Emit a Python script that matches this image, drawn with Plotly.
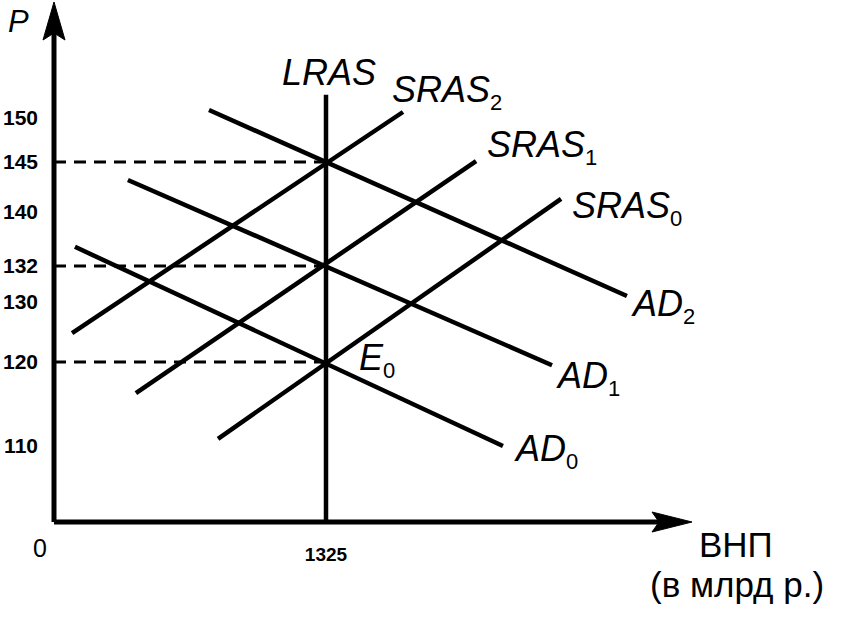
import plotly.graph_objects as go

# ---------------- data (schematic AD/AS model) ----------------
x_lras = 1325                      # ВНП, млрд р.
p_equilibria = [120, 132, 145]     # E0, E1, E2 price levels

ad0_x, ad0_p = [102, 2187], [134.4, 109.5]
ad1_x, ad1_p = [360, 2426], [142.75, 119.6]
ad2_x, ad2_p = [755, 2791], [151.5, 128.25]
sras0_x, sras0_p = [799, 2470], [110.4, 140.4]
sras1_x, sras1_p = [399, 2056], [116.1, 145.1]
sras2_x, sras2_p = [88, 1700], [123.6, 151.25]
lras_p = [100, 153.4]

y_tick_pos = [109.6, 120, 127.5, 132, 138.75, 145, 150.5]
y_tick_text = ["110", "120", "130", "132", "140", "145", "150"]
x_tick_text = ["1325"]

# ---------------- geometry helpers ----------------
W, H = 847, 620
KX = 1325 / 272.0        # data units per pixel (x)
KY = 1 / 8.0             # data units per pixel (y)
X0_PX, Y0_PX = 54, 522   # pixel position of origin
P0 = 100
x_range = [-X0_PX * KX, (W - X0_PX) * KX]
y_range = [P0 - (H - Y0_PX) * KY, P0 + Y0_PX * KY]
x_tip = (692 - X0_PX) * KX
y_tip = P0 + (Y0_PX - 2) * KY

BLACK = "black"
FONT = "Liberation Sans, Arial, sans-serif"

fig = go.Figure()

def line(xs, ys, width=4.5, dash=None):
    fig.add_trace(go.Scatter(x=xs, y=ys, mode="lines",
                             line=dict(color=BLACK, width=width, dash=dash),
                             hoverinfo="skip", showlegend=False))

# axes
line([0, 0], [P0, y_tip - 30 * KY], width=5)
line([0, x_tip - 30 * KX], [P0, P0], width=5)
# arrowheads
fig.add_trace(go.Scatter(
    x=[-11 * KX, 0, 11 * KX, 0, -11 * KX],
    y=[y_tip - 38 * KY, y_tip, y_tip - 38 * KY, y_tip - 31 * KY, y_tip - 38 * KY],
    mode="lines", fill="toself", fillcolor=BLACK, line=dict(color=BLACK, width=1),
    hoverinfo="skip", showlegend=False))
fig.add_trace(go.Scatter(
    x=[x_tip - 40 * KX, x_tip, x_tip - 40 * KX, x_tip - 33 * KX, x_tip - 40 * KX],
    y=[P0 + 10 * KY, P0, P0 - 10 * KY, P0, P0 + 10 * KY],
    mode="lines", fill="toself", fillcolor=BLACK, line=dict(color=BLACK, width=1),
    hoverinfo="skip", showlegend=False))

# dashed guides
for p in p_equilibria:
    line([0, x_lras], [p, p], width=3, dash="12px,8px")

# curves
line([x_lras, x_lras], lras_p, width=4.5)
for xs, ps in [(ad0_x, ad0_p), (ad1_x, ad1_p), (ad2_x, ad2_p),
               (sras0_x, sras0_p), (sras1_x, sras1_p), (sras2_x, sras2_p)]:
    line(xs, ps)

# labels
def label(text, x, y, xs=0, ys=0, size=36, xanchor="left", yanchor="middle"):
    fig.add_annotation(x=x, y=y, text=text, showarrow=False, xshift=xs, yshift=ys,
                       xanchor=xanchor, yanchor=yanchor,
                       font=dict(family=FONT, size=size, color=BLACK))

sub = lambda s: f"<sub><span style='font-size:22px'>{s}</span></sub>"
label("<i>LRAS</i>", x_lras, lras_p[1], xs=3, ys=0, xanchor="center", yanchor="bottom")
label("<i>SRAS</i>" + sub("2"), sras2_x[1], sras2_p[1], xs=-13, ys=20)
label("<i>SRAS</i>" + sub("1"), sras1_x[1], sras1_p[1], xs=9, ys=14)
label("<i>SRAS</i>" + sub("0"), sras0_x[1], sras0_p[1], xs=9, ys=-9)
label("<i>AD</i>" + sub("2"), ad2_x[1], ad2_p[1], xs=2, ys=-10)
label("<i>AD</i>" + sub("1"), ad1_x[1], ad1_p[1], xs=2, ys=-13)
label("<i>AD</i>" + sub("0"), ad0_x[1], ad0_p[1], xs=9, ys=-5)
label("<i>E</i>" + sub("0"), x_lras, p_equilibria[0], xs=31, ys=2)
label("<i>P</i>", 0, y_tip, xs=-48, ys=-19, size=31)
label("0", 0, P0, xs=-14, ys=-26, size=25, xanchor="center")
label("ВНП", x_tip, P0, xs=5, ys=-22, size=35)
label("(в млрд р.)", x_tip, P0, xs=-44, ys=-62, size=35)

fig.update_layout(
    width=W, height=H, margin=dict(l=0, r=0, t=0, b=0),
    plot_bgcolor="white", paper_bgcolor="white", showlegend=False,
    xaxis=dict(range=x_range, showgrid=False, zeroline=False, showline=False,
               tickvals=[x_lras], ticktext=x_tick_text, ticks="",
               anchor="free", position=(H - Y0_PX) / H,
               ticklabelstandoff=19,
               tickfont=dict(family=FONT, size=19, color=BLACK, weight="bold")),
    yaxis=dict(range=y_range, showgrid=False, zeroline=False, showline=False,
               tickvals=y_tick_pos, ticktext=y_tick_text, ticks="",
               anchor="free", position=X0_PX / W,
               ticklabelstandoff=16,
               tickfont=dict(family=FONT, size=21, color=BLACK, weight="bold")),
)

fig.write_html("out.html", config={"displayModeBar": False},
               post_script="document.body.style.margin='0';")
